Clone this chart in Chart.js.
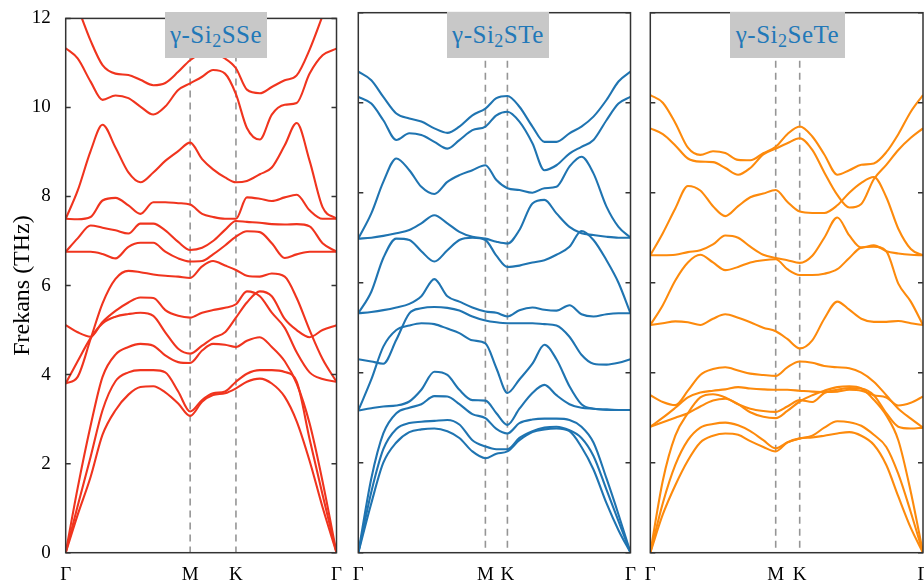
<!DOCTYPE html>
<html><head><meta charset="utf-8">
<script src="https://cdn.jsdelivr.net/npm/chart.js@4.4.1/dist/chart.umd.min.js"></script>
<style>
html,body{margin:0;padding:0;background:#fff;overflow:hidden;}
#wrap{position:relative;width:924px;height:583px;overflow:hidden;}
canvas{position:absolute;top:0;}
.ttl{position:absolute;top:12px;height:46px;background:#c8c8c8;color:#2278b8;font-family:"Liberation Serif","Times New Roman","DejaVu Serif",serif;font-size:25px;letter-spacing:0.5px;line-height:46px;text-align:center;z-index:5;white-space:nowrap;}
.ttl sub{font-size:18px;vertical-align:-4px;line-height:0;}
</style></head><body>
<div id="wrap">
<canvas id="c1" width="345" height="583" style="left:0;width:345px;height:583px"></canvas>
<canvas id="c2" width="295" height="583" style="left:345px;width:295px;height:583px"></canvas>
<canvas id="c3" width="300" height="583" style="left:640px;width:300px;height:583px"></canvas>
<div class="ttl" style="left:165px;width:102px">γ-Si<sub>2</sub>SSe</div>
<div class="ttl" style="left:447px;width:102px">γ-Si<sub>2</sub>STe</div>
<div class="ttl" style="left:730px;width:115px">γ-Si<sub>2</sub>SeTe</div>
</div>
<script>
// ---- data ----
const kLabels = ['Γ','M','K','Γ'];
const yTicks = [0,2,4,6,8,10,12];

const sseTicks = [0,125,171,272];
const sseX = [0,12,25,37,50,63,75,88,100,113,125,137,148,160,171,182,195,207,220,232,245,258,272];
const sseBands = [
 [12.9,12.25,11.5,10.95,10.76,10.73,10.62,10.5,10.55,10.8,11.06,11.2,11.2,11.1,10.88,10.4,10.32,10.46,10.61,10.72,11.3,12.06,12.9],
 [11.33,11.1,10.58,10.17,10.27,10.21,10.02,9.84,10.02,10.39,10.54,10.69,10.84,10.76,10.3,9.54,9.28,9.84,10.06,10.1,10.76,11.17,11.32],
 [7.5,8.13,9.02,9.61,9.1,8.54,8.32,8.54,8.8,9.02,9.21,8.84,8.61,8.43,8.32,8.35,8.5,8.65,9.15,9.65,8.8,7.76,7.5],
 [7.5,7.49,7.54,7.91,7.97,7.8,7.61,7.87,7.87,7.85,7.82,7.61,7.54,7.5,7.5,7.98,7.95,7.9,7.98,8.04,7.69,7.5,7.5],
 [6.76,7.06,7.35,7.3,7.24,7.17,7.39,7.39,7.24,6.98,6.8,6.85,7.0,7.25,7.45,7.43,7.41,7.38,7.37,7.38,7.33,6.95,6.76],
 [6.76,6.76,6.76,6.71,6.61,6.87,6.96,6.96,6.76,6.61,6.54,6.55,6.7,6.9,7.1,7.22,7.2,6.95,6.62,6.7,6.76,6.76,6.76],
 [3.8,3.95,4.8,5.6,6.15,6.33,6.3,6.25,6.22,6.2,6.17,6.43,6.55,6.45,6.35,6.22,6.2,6.27,6.2,5.72,5.0,4.35,3.84],
 [5.11,4.95,4.85,5.18,5.43,5.62,5.73,5.72,5.45,5.32,5.28,5.39,5.45,5.5,5.58,5.87,5.76,5.39,5.05,4.5,4.05,3.9,3.84],
 [3.8,4.3,4.82,5.15,5.3,5.36,5.39,5.32,4.95,4.58,4.47,4.65,4.82,4.95,5.28,5.62,5.87,5.76,5.25,5.0,4.84,5.0,5.11],
 [0,1.45,2.85,3.95,4.45,4.62,4.69,4.65,4.43,4.28,4.26,4.54,4.69,4.67,4.62,4.76,4.84,4.62,4.3,3.8,2.9,1.6,0],
 [0,1.05,2.15,3.2,3.85,4.05,4.1,4.1,4.05,3.62,3.17,3.43,3.58,3.62,3.84,4.02,4.1,4.1,4.06,3.84,2.55,1.3,0],
 [0,0.85,1.7,2.65,3.2,3.55,3.72,3.74,3.6,3.35,3.07,3.39,3.54,3.58,3.69,3.84,3.91,3.8,3.5,2.95,2.06,1.02,0]
];

const steTicks = [0,127,149,272];
const steX = [0,13,25,38,51,63,76,89,101,114,127,138,149,161,174,186,198,211,223,235,248,260,272];
const steBands = [
 [10.69,10.5,10.13,9.76,9.65,9.58,9.43,9.33,9.47,9.72,9.87,10.1,10.15,9.91,9.47,9.13,9.13,9.32,9.47,9.69,10.06,10.47,10.69],
 [10.13,9.98,9.61,9.17,9.32,9.28,9.13,8.98,9.17,9.39,9.47,9.72,9.8,9.58,9.1,8.5,8.61,8.87,9.02,9.17,9.61,9.98,10.13],
 [6.98,7.54,8.24,8.76,8.5,8.13,7.97,8.24,8.39,8.5,8.61,8.28,8.1,8.06,8.0,8.1,8.13,8.58,8.8,8.43,7.69,7.24,7.0],
 [6.98,7.0,7.04,7.1,7.17,7.32,7.5,7.32,7.13,7.02,6.98,6.91,6.87,7.17,7.76,7.84,7.54,7.24,7.1,7.06,7.02,7.0,7.0],
 [5.32,5.8,6.55,6.98,6.95,6.7,6.47,6.72,6.95,7.0,6.95,6.6,6.35,6.38,6.45,6.5,6.62,6.8,7.15,6.95,6.5,6.0,5.32],
 [5.32,5.35,5.39,5.45,5.53,5.7,6.08,5.7,5.58,5.45,5.36,5.33,5.25,5.39,5.45,5.4,5.38,5.5,5.3,5.25,5.3,5.32,5.32],
 [4.3,4.25,4.2,4.73,5.32,5.43,5.46,5.44,5.38,5.25,5.16,5.12,5.1,5.1,5.1,5.08,5.05,4.8,4.4,4.2,4.18,4.22,4.3],
 [3.16,3.85,4.58,4.95,5.05,5.1,5.08,4.98,4.88,4.72,4.65,4.1,3.55,3.85,4.2,4.62,4.3,3.7,3.3,3.2,3.18,3.17,3.17],
 [3.16,3.21,3.25,3.27,3.36,3.62,4.02,3.95,3.62,3.39,3.38,3.1,2.84,3.2,3.55,3.73,3.5,3.3,3.22,3.2,3.18,3.17,3.17],
 [0,1.65,2.65,3.1,3.22,3.3,3.48,3.47,3.3,3.08,2.99,2.75,2.65,2.88,2.96,2.98,2.98,2.95,2.8,2.45,1.65,0.85,0],
 [0,1.35,2.3,2.75,2.88,2.91,2.93,2.95,2.85,2.5,2.36,2.3,2.3,2.55,2.7,2.78,2.8,2.72,2.55,2.15,1.4,0.7,0],
 [0,1.1,2.0,2.45,2.68,2.74,2.76,2.7,2.55,2.25,2.1,2.2,2.25,2.5,2.68,2.74,2.76,2.7,2.35,1.85,1.1,0.5,0]
];

const seteTicks = [0,125.4,149.4,272.7];
const seteX = [0,12.5,25,37.6,50,62.7,75,87.8,100,113,125.4,137,149.4,162,174,187,199,211,223.5,236,248,260.5,272.7];
const seteBands = [
 [10.17,10.0,9.55,9.0,8.84,8.92,8.88,8.73,8.72,8.88,9.02,9.3,9.47,9.25,8.85,8.4,8.5,8.62,8.65,8.9,9.3,9.8,10.17],
 [9.43,9.3,9.05,8.76,8.69,8.68,8.55,8.4,8.55,8.85,8.98,9.1,9.21,8.95,8.45,7.95,7.67,7.75,8.3,8.62,8.95,9.22,9.43],
 [6.61,7.1,7.65,8.15,8.05,7.7,7.48,7.7,7.9,7.98,8.06,7.8,7.58,7.55,7.55,7.72,8.0,8.22,8.35,7.9,7.2,6.75,6.61],
 [6.61,6.61,6.62,6.68,6.72,6.85,7.05,7.0,6.8,6.62,6.55,6.5,6.44,6.6,7.0,7.45,7.05,6.78,6.83,6.7,6.65,6.62,6.61],
 [5.06,5.5,6.05,6.45,6.62,6.45,6.28,6.35,6.45,6.5,6.52,6.3,6.17,6.17,6.2,6.3,6.55,6.78,6.8,6.7,5.98,5.58,5.06],
 [5.06,5.1,5.14,5.12,5.06,5.2,5.3,5.22,5.12,5.0,4.92,4.75,4.54,4.72,5.2,5.58,5.4,5.2,5.13,5.13,5.15,5.1,5.06],
 [3.5,3.35,3.28,3.6,3.95,4.08,4.12,4.05,3.98,3.95,3.93,4.12,4.25,4.22,4.15,4.12,4.1,4.0,3.8,3.5,3.2,2.98,2.78],
 [2.8,3.0,3.22,3.45,3.56,3.6,3.63,3.68,3.65,3.63,3.62,3.62,3.6,3.58,3.57,3.58,3.62,3.6,3.5,3.45,3.27,3.33,3.47],
 [0,1.6,2.6,3.1,3.45,3.52,3.45,3.3,3.2,3.15,3.13,3.25,3.39,3.35,3.55,3.62,3.66,3.65,3.5,3.1,2.8,2.76,2.78],
 [2.8,2.9,3.0,3.1,3.25,3.38,3.42,3.3,3.12,3.02,2.99,3.15,3.36,3.5,3.6,3.68,3.7,3.65,3.4,3.05,2.5,1.35,0],
 [0,1.1,1.95,2.5,2.78,2.86,2.89,2.83,2.7,2.5,2.32,2.45,2.54,2.6,2.78,2.92,2.9,2.82,2.62,2.35,1.75,0.9,0],
 [0,0.85,1.5,2.05,2.45,2.6,2.65,2.62,2.48,2.35,2.25,2.45,2.54,2.56,2.6,2.65,2.68,2.6,2.4,1.95,1.25,0.55,0]
];

// ---- drawing ----
const SERIF = "'Liberation Serif','Times New Roman',serif";
const frameColor = '#333333';

const framePlugin = {
  id: 'frame',
  beforeDatasetsDraw(chart) {
    const {ctx, chartArea: a, scales: {x}} = chart;
    const tp = chart.options.plugins.frame.ticks;
    ctx.save();
    ctx.strokeStyle = '#959595';
    ctx.lineWidth = 1.6;
    ctx.setLineDash([7, 5]);
    [tp[1], tp[2]].forEach(v => {
      const px = x.getPixelForValue(v);
      ctx.beginPath(); ctx.moveTo(px, a.top); ctx.lineTo(px, a.bottom); ctx.stroke();
    });
    ctx.restore();
  },
  afterDatasetsDraw(chart) {
    const {ctx, chartArea: a, scales: {y}} = chart;
    ctx.save();
    ctx.strokeStyle = frameColor;
    ctx.lineWidth = 1.5;
    ctx.strokeRect(a.left, a.top, a.right - a.left, a.bottom - a.top);
    yTicks.forEach(v => {
      const py = y.getPixelForValue(v);
      ctx.beginPath();
      ctx.moveTo(a.left, py); ctx.lineTo(a.left + 5, py);
      ctx.moveTo(a.right, py); ctx.lineTo(a.right - 5, py);
      ctx.stroke();
    });
    ctx.restore();
  }
};

function makeChart(id, xs, bands, ticks, color, pad, showY) {
  const datasets = bands.map(b => ({
    data: xs.map((x, i) => ({x: x, y: b[i]})),
    borderColor: color, borderWidth: 2.1, pointRadius: 0,
    cubicInterpolationMode: 'monotone', fill: false, clip: 0
  }));
  return new Chart(document.getElementById(id), {
    type: 'line',
    data: {datasets},
    options: {
      responsive: false, animation: false, maintainAspectRatio: false,
      layout: {padding: pad, autoPadding: false},
      plugins: {legend: {display: false}, tooltip: {enabled: false}, frame: {ticks: ticks}},
      scales: {
        x: {
          type: 'linear', min: ticks[0], max: ticks[3],
          afterBuildTicks: s => { s.ticks = ticks.map(v => ({value: v})); },
          afterFit: s => { s.height = 30.3; },
          ticks: {autoSkip: false, maxRotation: 0, padding: 3, color: '#000',
                  font: {family: SERIF, size: 19}, callback: (v, i) => kLabels[i]},
          grid: {display: false}, border: {display: false}
        },
        y: {
          display: showY, min: 0, max: 12,
          afterBuildTicks: s => { s.ticks = yTicks.map(v => ({value: v})); },
          afterFit: s => { s.width = showY ? 65.7 : 0; },
          ticks: {padding: 7, color: '#000', font: {family: SERIF, size: 19}},
          grid: {display: false}, border: {display: false},
          title: {display: showY, text: 'Frekans (THz)', color: '#000',
                  font: {family: SERIF, size: 24}, padding: {top: 8, bottom: 0}}
        }
      }
    },
    plugins: [framePlugin]
  });
}

makeChart('c1', sseX, sseBands, sseTicks, '#f0341e', {top: 12.7, right: 7, left: 0, bottom: 0}, true);
makeChart('c2', steX, steBands, steTicks, '#1f74b1', {top: 12.7, right: 9.5, left: 13.3, bottom: 0}, false);
makeChart('c3', seteX, seteBands, seteTicks, '#fd8a0c', {top: 12.7, right: 17, left: 10.3, bottom: 0}, false);
</script>
</body></html>
